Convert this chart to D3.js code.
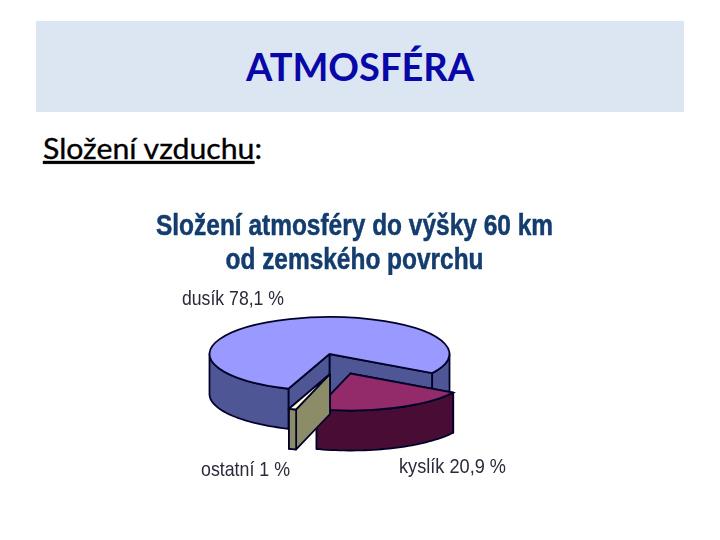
<!DOCTYPE html>
<html>
<head>
<meta charset="utf-8">
<script src="https://cdn.jsdelivr.net/npm/d3@7"></script>
<style>
  html, body { margin: 0; padding: 0; background: #fff; }
  svg { display: block; }
  .slide-title { font-family: Lato, sans-serif; font-weight: 700; font-size: 38px; fill: #0808a8; }
  .slide-sub { font-family: Lato, sans-serif; font-size: 29px; fill: #000; stroke: #000; stroke-width: 0.35; }
  .chart-title { font-family: "Liberation Sans", Arial, sans-serif; font-weight: 700; font-size: 29px; fill: #123c6e; stroke: #123c6e; stroke-width: 0.5; }
  .chart-label { font-family: "Liberation Sans", Arial, sans-serif; font-size: 21px; fill: #2a2a3a; }
</style>
</head>
<body>
<div id="chart"></div>
<script>
const WIDTH = 720;
const HEIGHT = 540;

const categories = ['dusík', 'kyslík', 'ostatní'];
const values = [78.1, 20.9, 1];
const sliceLabels = ['dusík 78,1 %', 'kyslík 20,9 %', 'ostatní 1 %'];
const chartTitleLines = ['Složení atmosféry do výšky 60 km', 'od zemského povrchu'];

const topColors = ['#9999ff', '#93296a', '#ffffd8'];
const sideColors = ['#4f5695', '#4a0c34', '#8c8c68'];
const OUTLINE = '#05052a';

// pie geometry
const CX = 329.5, CY = 354, RX = 120, RY = 37, DEPTH = 40;
const explode = { 'dusík': [0, 0], 'kyslík': [21, 19.5], 'ostatní': [0.5, 20] };
const rad = d => d * Math.PI / 180;

const svg = d3.select('#chart').append('svg')
  .attr('width', WIDTH)
  .attr('height', HEIGHT);

svg.append('rect')
  .attr('x', 36).attr('y', 21)
  .attr('width', 648).attr('height', 91)
  .attr('fill', '#dce6f2');

svg.append('text')
  .attr('class', 'slide-title')
  .attr('x', 360).attr('y', 81)
  .attr('text-anchor', 'middle')
  .text('ATMOSFÉRA');

const sub = svg.append('text')
  .attr('class', 'slide-sub')
  .attr('x', 43).attr('y', 159)
  .attr('textLength', 219)
  .attr('lengthAdjust', 'spacingAndGlyphs');
sub.append('tspan').attr('text-decoration', 'underline').text('Složení vzduchu');
sub.append('tspan').text(':');

svg.append('defs').append('filter')
  .attr('id', 'soft')
  .append('feGaussianBlur')
  .attr('stdDeviation', 0.4);

const chart = svg.append('g').attr('filter', 'url(#soft)');

chart.selectAll('text.chart-title')
  .data(chartTitleLines)
  .join('text')
  .attr('class', 'chart-title')
  .attr('x', 354.5)
  .attr('y', (d, i) => 235 + i * 33.5)
  .attr('text-anchor', 'middle')
  .attr('textLength', (d, i) => i === 0 ? 397 : 258)
  .attr('lengthAdjust', 'spacingAndGlyphs')
  .text(d => d);

// pie starts at 200 deg, running clockwise
const pie = d3.pie().sort(null).startAngle(rad(200)).endAngle(rad(560));
const slices = pie(values).map((d, i) => ({ ...d, name: categories[i], idx: i }));

// point on the top ellipse for a pie angle
const px = a => Math.sin(a) * RX;
const py = a => -Math.cos(a) * RY;

const line = d3.line();
const arcGen = d3.arc().innerRadius(0).outerRadius(RX);

// rim pieces: only the part of the edge which faces the viewer
function rimPaths(a0, a1) {
  const out = [];
  for (let k = 0; k <= 1; k++) {
    const lo = Math.max(a0, rad(90) + k * 2 * Math.PI);
    const hi = Math.min(a1, rad(270) + k * 2 * Math.PI);
    if (hi <= lo) continue;
    const steps = d3.range(lo, hi, rad(2)).concat([hi]);
    const upper = steps.map(a => [px(a), py(a)]);
    const lower = steps.slice().reverse().map(a => [px(a), py(a) + DEPTH]);
    out.push(line(upper.concat(lower)) + 'Z');
  }
  return out;
}

function wallPath(a) {
  return line([[0, 0], [px(a), py(a)], [px(a), py(a) + DEPTH], [0, DEPTH]]) + 'Z';
}

const sliceG = chart.selectAll('g.slice')
  .data(slices)
  .join('g')
  .attr('class', 'slice')
  .attr('transform', d => `translate(${CX + explode[d.name][0]},${CY + explode[d.name][1]})`);

sliceG.each(function (d) {
  const g = d3.select(this);
  const side = sideColors[d.idx];

  g.selectAll('path.wall')
    .data([d.endAngle, d.startAngle])
    .join('path')
    .attr('class', 'wall')
    .attr('d', wallPath)
    .attr('fill', side)
    .attr('stroke', OUTLINE)
    .attr('stroke-width', 1.8)
    .attr('stroke-linejoin', 'round');

  g.selectAll('path.rim')
    .data(rimPaths(d.startAngle, d.endAngle))
    .join('path')
    .attr('class', 'rim')
    .attr('d', p => p)
    .attr('fill', side)
    .attr('stroke', OUTLINE)
    .attr('stroke-width', 1.8)
    .attr('stroke-linejoin', 'round');

  g.append('g')
    .attr('transform', `scale(1,${RY / RX})`)
    .append('path')
    .attr('d', arcGen(d))
    .attr('fill', topColors[d.idx])
    .attr('stroke', OUTLINE)
    .attr('stroke-width', 1.8)
    .attr('vector-effect', 'non-scaling-stroke');
});

const labelPos = [[182, 305, 102], [399, 473, 107], [201, 476, 89]];

chart.selectAll('text.chart-label')
  .data(sliceLabels)
  .join('text')
  .attr('class', 'chart-label')
  .attr('x', (d, i) => labelPos[i][0])
  .attr('y', (d, i) => labelPos[i][1])
  .attr('textLength', (d, i) => labelPos[i][2])
  .attr('lengthAdjust', 'spacingAndGlyphs')
  .text(d => d);
</script>
</body>
</html>
